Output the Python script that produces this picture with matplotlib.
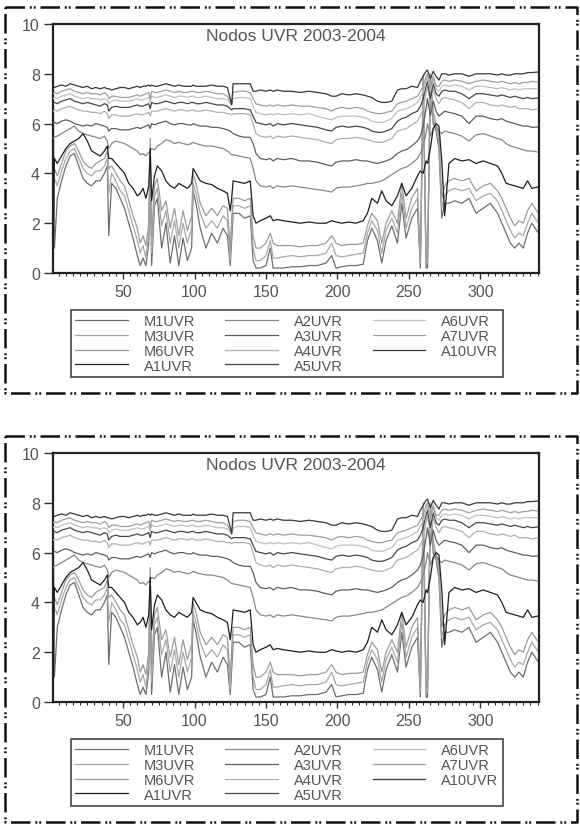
import matplotlib
matplotlib.use("Agg")
import matplotlib.pyplot as plt
from matplotlib.lines import Line2D
from matplotlib.ticker import MultipleLocator

plt.rcParams['font.family'] = ['Liberation Sans', 'DejaVu Sans']
plt.rcParams['lines.scale_dashes'] = False

W, H = 580, 828
TITLE = "Nodos UVR 2003-2004"

names = ["M1UVR", "M3UVR", "M6UVR", "A1UVR", "A2UVR", "A3UVR",
         "A4UVR", "A5UVR", "A6UVR", "A7UVR", "A10UVR"]
colors = ["#6e6e6e", "#a8a8a8", "#9c9c9c", "#1e1e1e", "#888888", "#5e5e5e",
          "#b0b0b0", "#474747", "#c0c0c0", "#a0a0a0", "#373737"]

# observation number (daily nodes)
x = [1, 2, 4, 7, 10, 13, 16, 19, 22, 25,
     28, 31, 34, 37, 39, 40, 42, 45, 48, 51,
     54, 57, 60, 62, 64, 66, 68, 69, 70, 72,
     74, 77, 80, 83, 86, 89, 92, 95, 98, 99,
     101, 104, 108, 112, 116, 120, 123, 125, 126, 127,
     131, 135, 139, 141, 143, 146, 150, 153, 155, 158,
     162, 168, 174, 180, 186, 192, 196, 199, 203, 208,
     213, 218, 221, 224, 228, 231, 234, 238, 242, 245,
     248, 252, 256, 258, 260, 262, 263, 265, 267, 269,
     271, 273, 275, 278, 282, 287, 292, 297, 302, 307,
     312, 315, 318, 321, 324, 327, 330, 333, 336, 340]

m1 = [8.6, 1.0, 3.0, 3.7, 4.3, 4.7, 4.8, 4.3, 3.8, 3.6,
      3.5, 3.7, 3.7, 4.0, 4.3, 1.5, 3.6, 3.4, 3.0, 2.6,
      2.0, 1.4, 0.7, 0.3, 0.6, 0.3, 1.2, 4.6, 0.3, 2.7,
      3.0, 1.0, 2.0, 0.4, 1.5, 0.3, 1.4, 0.5, 1.0, 3.3,
      2.8, 1.8, 1.0, 1.6, 1.2, 1.8, 1.5, 0.3, 1.3, 2.4,
      2.4, 2.2, 2.3, 0.5, 0.2, 0.2, 0.3, 1.0, 0.2, 0.2,
      0.2, 0.25, 0.25, 0.3, 0.3, 0.4, 0.7, 0.2, 0.25, 0.3,
      0.3, 0.35, 1.3, 1.8, 1.3, 0.4, 1.3, 1.9, 1.2, 2.8,
      1.4, 2.2, 2.6, 0.2, 7.6, 0.2, 0.2, 7.6, 6.0, 5.7,
      5.0, 2.2, 2.8, 2.8, 2.9, 2.8, 3.0, 2.4, 2.6, 2.8,
      2.4, 2.0, 1.6, 1.2, 1.0, 1.2, 1.0, 1.6, 2.0, 1.65]

m3 = [2.2, 3.8, 3.5, 4.1, 4.6, 4.9, 5.0, 4.6, 4.2, 4.0,
      3.9, 4.1, 4.1, 4.3, 4.6, 3.2, 4.0, 3.7, 3.3, 3.1,
      2.5, 1.9, 1.3, 0.8, 1.1, 0.6, 1.6, 5.0, 0.8, 3.1,
      3.4, 1.9, 2.5, 1.2, 2.1, 1.0, 2.0, 1.2, 1.8, 3.6,
      3.2, 2.4, 1.8, 2.1, 1.8, 2.3, 2.1, 0.5, 1.8, 2.7,
      2.7, 2.6, 2.7, 1.0, 0.5, 0.5, 0.7, 1.3, 0.6, 0.6,
      0.65, 0.7, 0.65, 0.7, 0.7, 0.8, 1.2, 0.7, 0.65, 0.7,
      0.75, 0.8, 1.6, 2.1, 1.7, 0.8, 1.7, 2.2, 1.6, 3.2,
      1.8, 2.6, 3.0, 0.4, 7.8, 0.4, 0.4, 7.8, 6.2, 5.8,
      5.3, 2.6, 3.1, 3.3, 3.4, 3.3, 3.4, 2.9, 3.1, 3.2,
      2.9, 2.5, 2.1, 1.7, 1.4, 1.6, 1.5, 2.0, 2.4, 2.05]

m6 = [3.0, 4.2, 3.9, 4.4, 4.9, 5.1, 5.2, 4.9, 4.5, 4.3,
      4.2, 4.4, 4.5, 4.6, 4.9, 4.2, 4.3, 4.0, 3.7, 3.5,
      2.9, 2.3, 1.8, 1.2, 1.5, 1.1, 2.0, 5.4, 1.5, 3.5,
      3.8, 2.5, 2.9, 1.8, 2.6, 1.5, 2.5, 1.7, 2.3, 4.0,
      3.6, 2.8, 2.3, 2.6, 2.3, 2.7, 2.6, 1.0, 2.2, 3.0,
      3.0, 2.9, 3.0, 1.5, 1.0, 1.0, 1.2, 1.6, 1.2, 1.1,
      1.1, 1.1, 1.05, 1.1, 1.1, 1.2, 1.5, 1.2, 1.1, 1.15,
      1.15, 1.2, 1.9, 2.4, 2.1, 1.2, 2.0, 2.5, 2.0, 3.6,
      2.2, 3.0, 3.4, 0.6, 8.0, 0.6, 0.6, 8.0, 6.5, 5.9,
      5.5, 3.0, 3.5, 3.7, 3.8, 3.7, 3.8, 3.3, 3.5, 3.6,
      3.3, 3.0, 2.6, 2.2, 1.9, 2.1, 2.0, 2.5, 2.8, 2.45]

a1 = [1.0, 4.6, 4.4, 4.7, 5.0, 5.2, 5.3, 5.4, 5.6, 5.3,
      4.9, 4.8, 4.7, 4.9, 5.1, 4.6, 4.6, 4.4, 4.2, 4.0,
      3.6, 3.4, 3.1, 3.2, 3.4, 3.0, 3.5, 5.0, 2.9, 3.9,
      4.3, 4.1, 3.7, 3.5, 3.4, 3.6, 3.5, 3.4, 3.6, 4.2,
      4.0, 3.7, 3.6, 3.55, 3.4, 3.3, 3.2, 2.5, 3.0, 3.7,
      3.65, 3.6, 3.7, 2.3, 2.0, 2.1, 2.2, 2.3, 2.1, 2.15,
      2.1, 2.05, 2.0, 2.05, 2.0, 2.0, 2.1, 2.05, 2.0, 2.05,
      2.0, 2.1, 2.4, 3.0, 2.8, 3.3, 2.9, 2.7, 3.1, 3.6,
      3.1, 3.4, 3.9, 4.1, 4.0, 4.5, 4.4, 5.0, 5.8, 6.0,
      5.9, 4.5, 2.3, 4.4, 4.6, 4.5, 4.55, 4.4, 4.5, 4.4,
      4.3, 4.0, 3.6, 3.55, 3.5, 3.45, 3.4, 3.7, 3.4, 3.45]

a2 = [5.4, 5.45, 5.5, 5.6, 5.7, 5.8, 5.9, 5.7, 5.6, 5.55,
      5.5, 5.45, 5.4, 5.5, 5.3, 5.0, 5.2, 5.3, 5.25, 5.2,
      5.1, 5.0, 4.9, 4.75, 4.8, 4.7, 4.85, 4.9, 5.0, 4.95,
      5.1, 5.2, 5.35, 5.3, 5.2, 5.25, 5.2, 5.15, 5.2, 5.25,
      5.2, 5.15, 5.1, 5.1, 5.05, 5.0, 4.9, 4.8, 4.75, 4.75,
      4.7, 4.65, 4.6, 4.2, 3.7, 3.5, 3.45, 3.5, 3.4, 3.5,
      3.45, 3.5, 3.45, 3.4, 3.35, 3.3, 3.25, 3.4, 3.45, 3.45,
      3.5, 3.55, 3.6, 3.6, 3.65, 3.7, 3.8, 3.95, 4.1, 4.2,
      4.25, 4.4, 4.6, 4.8, 5.1, 5.6, 6.0, 5.5, 5.8, 5.9,
      5.7, 5.6, 5.7, 5.65, 5.6, 5.5, 5.3, 5.55, 5.6, 5.5,
      5.4, 5.35, 5.2, 5.1, 5.05, 5.0, 4.95, 4.9, 4.9, 4.86]

a3 = [6.0, 6.05, 6.0, 6.1, 6.15, 6.1, 6.0, 5.95, 5.9, 5.95,
      5.9, 6.0, 5.95, 5.9, 5.85, 5.7, 5.8, 5.8, 5.75, 5.75,
      5.75, 5.8, 5.85, 5.8, 5.85, 5.9, 5.95, 5.8, 6.0, 5.95,
      6.0, 6.05, 6.1, 6.0, 5.95, 6.0, 6.0, 5.95, 5.95, 6.0,
      5.95, 5.9, 5.9, 5.85, 5.85, 5.8, 5.75, 5.7, 5.65, 5.6,
      5.5, 5.45, 5.45, 5.2, 4.8, 4.6, 4.55, 4.6, 4.5, 4.6,
      4.55, 4.6, 4.5, 4.5, 4.45, 4.35, 4.3, 4.45, 4.5, 4.5,
      4.55, 4.5, 4.5, 4.45, 4.4, 4.45, 4.5, 4.6, 4.8, 4.9,
      4.95, 5.1, 5.3, 5.5, 5.9, 6.6, 7.0, 6.3, 6.9, 6.5,
      6.3, 6.4, 6.5, 6.45, 6.4, 6.3, 6.0, 6.3, 6.3, 6.2,
      6.15, 6.2, 6.1, 6.05, 6.0, 5.95, 5.9, 5.9, 5.85, 5.86]

a4 = [6.5, 6.55, 6.5, 6.6, 6.65, 6.7, 6.6, 6.55, 6.5, 6.5,
      6.45, 6.45, 6.4, 6.5, 6.4, 6.2, 6.35, 6.35, 6.3, 6.3,
      6.3, 6.35, 6.4, 6.35, 6.35, 6.4, 6.45, 6.3, 6.5, 6.5,
      6.5, 6.55, 6.6, 6.55, 6.5, 6.55, 6.55, 6.5, 6.55, 6.55,
      6.5, 6.5, 6.55, 6.5, 6.45, 6.45, 6.4, 6.4, 6.35, 6.4,
      6.4, 6.4, 6.35, 6.0, 5.6, 5.5, 5.45, 5.5, 5.4, 5.5,
      5.45, 5.5, 5.45, 5.4, 5.35, 5.25, 5.2, 5.35, 5.4, 5.4,
      5.45, 5.4, 5.35, 5.3, 5.25, 5.25, 5.3, 5.4, 5.7, 5.75,
      5.8, 5.95, 6.1, 6.3, 6.6, 7.2, 7.5, 6.8, 7.4, 7.0,
      6.8, 7.0, 7.05, 7.0, 6.95, 6.85, 6.6, 6.85, 6.85, 6.75,
      6.7, 6.75, 6.7, 6.65, 6.7, 6.6, 6.6, 6.6, 6.55, 6.59]

a5 = [6.8, 6.85, 6.8, 6.9, 6.95, 7.0, 6.9, 6.85, 6.8, 6.85,
      6.8, 6.75, 6.7, 6.8, 6.75, 6.5, 6.65, 6.7, 6.65, 6.65,
      6.65, 6.7, 6.75, 6.7, 6.7, 6.75, 6.8, 6.6, 6.85, 6.8,
      6.8, 6.85, 6.9, 6.85, 6.8, 6.85, 6.85, 6.8, 6.85, 6.85,
      6.8, 6.8, 6.85, 6.8, 6.75, 6.75, 6.7, 6.6, 6.55, 6.6,
      6.6, 6.6, 6.55, 6.3, 6.05, 6.0, 5.95, 6.0, 5.9, 6.0,
      5.95, 6.0, 5.95, 5.9, 5.85, 5.75, 5.7, 5.85, 5.9, 5.85,
      5.9, 5.85, 5.8, 5.7, 5.65, 5.65, 5.7, 5.8, 6.1, 6.2,
      6.25, 6.4, 6.5, 6.7, 7.0, 7.5, 7.7, 7.0, 7.6, 7.2,
      7.1, 7.3, 7.35, 7.3, 7.3, 7.2, 7.0, 7.2, 7.2, 7.15,
      7.1, 7.15, 7.1, 7.05, 7.1, 7.05, 7.0, 7.05, 7.0, 7.03]

a6 = [7.0, 7.05, 7.0, 7.1, 7.15, 7.2, 7.1, 7.05, 7.0, 7.05,
      7.0, 7.0, 6.95, 7.0, 6.95, 6.8, 6.9, 6.95, 6.9, 6.9,
      6.9, 6.95, 7.0, 6.95, 6.95, 7.0, 7.05, 6.85, 7.1, 7.05,
      7.05, 7.1, 7.15, 7.1, 7.05, 7.1, 7.1, 7.05, 7.1, 7.1,
      7.05, 7.05, 7.1, 7.05, 7.0, 7.0, 6.95, 6.8, 6.75, 7.0,
      7.05, 7.05, 7.0, 6.7, 6.45, 6.4, 6.35, 6.4, 6.35, 6.4,
      6.35, 6.4, 6.35, 6.4, 6.3, 6.2, 6.15, 6.25, 6.3, 6.3,
      6.3, 6.25, 6.2, 6.1, 6.05, 6.05, 6.1, 6.2, 6.5, 6.55,
      6.6, 6.7, 6.85, 7.05, 7.3, 7.7, 7.9, 7.3, 7.8, 7.4,
      7.3, 7.5, 7.55, 7.5, 7.55, 7.5, 7.35, 7.5, 7.5, 7.45,
      7.4, 7.45, 7.4, 7.35, 7.4, 7.35, 7.4, 7.4, 7.4, 7.4]

a7 = [7.2, 7.25, 7.2, 7.3, 7.35, 7.4, 7.3, 7.25, 7.2, 7.25,
      7.2, 7.2, 7.15, 7.25, 7.15, 7.0, 7.1, 7.1, 7.05, 7.05,
      7.05, 7.1, 7.15, 7.1, 7.15, 7.2, 7.25, 7.0, 7.3, 7.25,
      7.25, 7.3, 7.35, 7.3, 7.25, 7.3, 7.25, 7.25, 7.3, 7.3,
      7.25, 7.25, 7.3, 7.25, 7.2, 7.2, 7.1, 6.9, 6.8, 7.25,
      7.3, 7.3, 7.25, 7.0, 6.8, 6.75, 6.7, 6.75, 6.7, 6.75,
      6.7, 6.75, 6.7, 6.7, 6.65, 6.6, 6.5, 6.6, 6.65, 6.6,
      6.65, 6.6, 6.5, 6.45, 6.4, 6.4, 6.45, 6.5, 6.8, 6.85,
      6.9, 7.0, 7.1, 7.3, 7.5, 7.9, 8.0, 7.4, 7.9, 7.5,
      7.5, 7.7, 7.75, 7.7, 7.75, 7.7, 7.6, 7.7, 7.75, 7.7,
      7.65, 7.7, 7.65, 7.6, 7.65, 7.6, 7.65, 7.65, 7.7, 7.67]

a10 = [7.5, 7.45, 7.5, 7.55, 7.5, 7.6, 7.55, 7.5, 7.45, 7.5,
       7.4, 7.45, 7.4, 7.45, 7.4, 7.4, 7.35, 7.4, 7.45, 7.45,
       7.4, 7.45, 7.5, 7.45, 7.5, 7.5, 7.55, 7.5, 7.55, 7.5,
       7.5, 7.55, 7.6, 7.55, 7.5, 7.55, 7.5, 7.5, 7.5, 7.55,
       7.5, 7.5, 7.5, 7.55, 7.5, 7.5, 7.45, 7.0, 6.75, 7.6,
       7.6, 7.6, 7.6, 7.3, 7.3, 7.35, 7.3, 7.35, 7.3, 7.35,
       7.3, 7.3, 7.25, 7.3, 7.25, 7.2, 7.1, 7.1, 7.2, 7.15,
       7.2, 7.15, 7.1, 7.05, 6.9, 6.85, 6.85, 6.9, 7.35, 7.4,
       7.4, 7.5, 7.45, 7.7, 7.9, 8.1, 8.15, 7.8, 8.1, 7.9,
       7.75, 8.0, 8.0, 7.95, 8.0, 8.0, 7.9, 8.0, 8.0, 8.0,
       7.95, 8.0, 7.95, 7.95, 8.0, 8.0, 8.0, 8.05, 8.05, 8.07]

series = [m1, m3, m6, a1, a2, a3, a4, a5, a6, a7, a10]
zorders = [2, 2, 2, 4, 3, 3, 3, 3, 3, 3, 3]


def px_rect(l, t, r, b):
    return [l / W, 1 - b / H, (r - l) / W, (b - t) / H]


def draw_border(fig, l, t, r, b):
    xs = [l / W, r / W, r / W, l / W, l / W]
    ys = [1 - t / H, 1 - t / H, 1 - b / H, 1 - b / H, 1 - t / H]
    fig.add_artist(Line2D(xs, ys, transform=fig.transFigure, color='#111111',
                          lw=1.8, dashes=(14, 3.5, 1.4, 1.4, 1.4, 3.5)))


def draw_panel(fig, dy):
    ax = fig.add_axes(px_rect(53, 25 + dy, 539, 274 + dy))
    for vals, name, col, z in zip(series, names, colors, zorders):
        ax.plot(x, vals, color=col, lw=0.9, label=name, zorder=z)
    ax.set_xlim(1, 341)
    ax.set_ylim(0, 10)
    ax.set_yticks([0, 2, 4, 6, 8, 10])
    ax.set_xticks([50, 100, 150, 200, 250, 300])
    ax.xaxis.set_minor_locator(MultipleLocator(5))
    ax.tick_params(axis='y', direction='out', length=6.5, width=1.0, pad=3,
                   labelsize=11.5, labelcolor='#555555', color='#333333')
    ax.tick_params(axis='x', which='major', direction='out', length=4, width=1.0,
                   pad=4, labelsize=11.5, labelcolor='#555555', color='#333333')
    ax.tick_params(axis='x', which='minor', direction='out', length=2.5, width=0.8,
                   color='#333333')
    for sp in ax.spines.values():
        sp.set_linewidth(1.6)
        sp.set_color('#222222')
    ax.text(0.5, 0.952, TITLE, transform=ax.transAxes, ha='center', va='center',
            fontsize=12.5, color='#555555')
    leg = ax.legend(ncol=3, loc='upper left',
                    bbox_to_anchor=(71 / W, 1 - (311 + dy) / H),
                    bbox_transform=fig.transFigure, fontsize=10.5,
                    labelspacing=0.05, handlelength=3.6, handletextpad=1.1,
                    columnspacing=2.05, borderpad=0.3, borderaxespad=0,
                    fancybox=False, framealpha=1, edgecolor='#444444')
    leg.get_frame().set_linewidth(1.2)
    for t in leg.get_texts():
        t.set_color('#555555')
    draw_border(fig, 5, 8 + dy, 577, 394 + dy)
    return ax


fig = plt.figure(figsize=(W / 100, H / 100), dpi=100)
fig.patch.set_facecolor('white')
draw_panel(fig, 0)
draw_panel(fig, 429)
fig.savefig("out.png", dpi=100, facecolor='white')
